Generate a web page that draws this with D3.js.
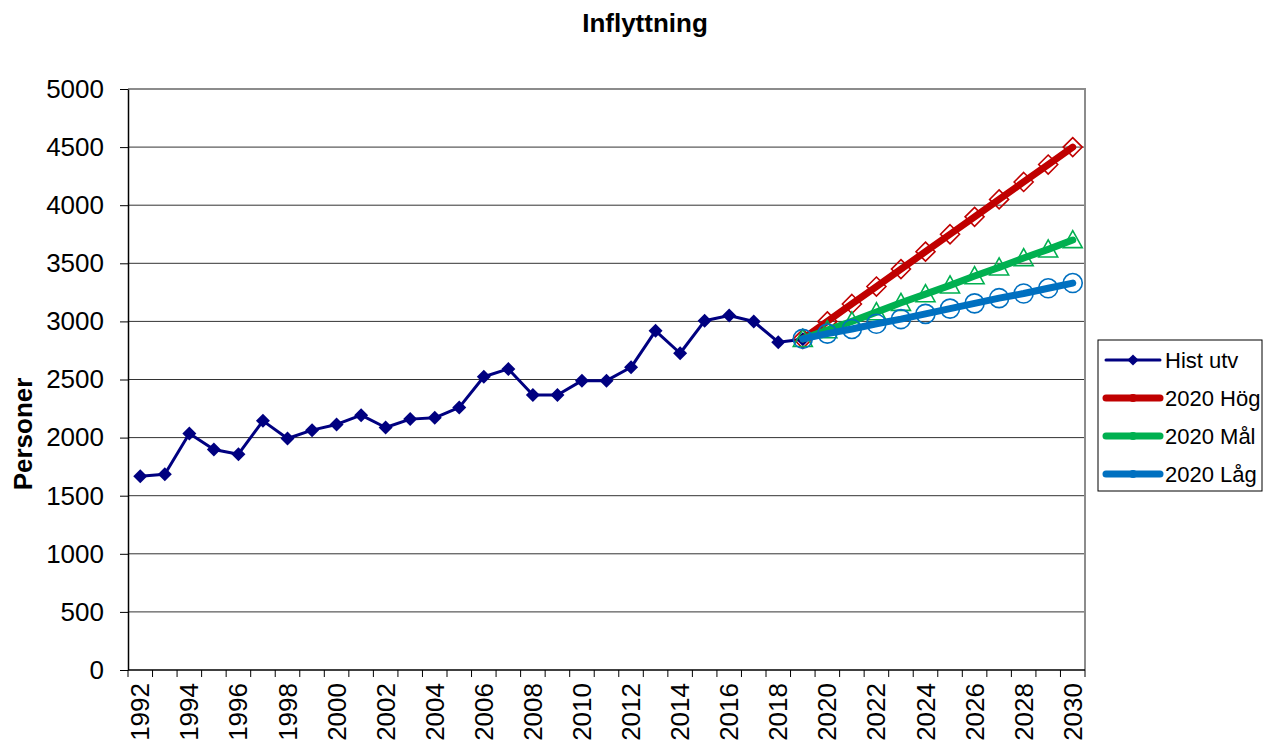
<!DOCTYPE html>
<html lang="sv">
<head>
<meta charset="UTF-8">
<title>Inflyttning</title>
<script src="https://d3js.org/d3.v7.min.js"></script>
<style>
  body, html { margin: 0; background: #fff; }
  svg { display: block; font-family: Arial, "Liberation Sans", sans-serif; }
  .grid line { stroke: #333; stroke-width: 1; }
  .axis path, .axis line { stroke: #000; }
  .axis text { font-size: 26px; fill: #000; }
  .legend text { font-size: 22px; fill: #000; }
</style>
</head>
<body>
<script>
// kategorier (år)
const years = [1992, 1993, 1994, 1995, 1996, 1997, 1998, 1999, 2000, 2001, 2002, 2003, 2004,
  2005, 2006, 2007, 2008, 2009, 2010, 2011, 2012, 2013, 2014, 2015, 2016, 2017, 2018, 2019,
  2020, 2021, 2022, 2023, 2024, 2025, 2026, 2027, 2028, 2029, 2030];

// historisk utveckling 1992-2019
const histYears = years.slice(0, 28);
const histValues = [1667, 1684, 2035, 1897, 1857, 2144, 1992, 2064, 2113, 2193, 2087, 2159, 2170, 2260,
  2524, 2591, 2366, 2366, 2490, 2490, 2605, 2919, 2726, 3005, 3051, 2999, 2821, 2847];

// prognoser 2019-2030
const progYears = years.slice(27);
const hogValues = [2850, 3000, 3150, 3300, 3450, 3600, 3750, 3900, 4050, 4200, 4350, 4500];
const malValues = [2850, 2925, 3000, 3080, 3160, 3235, 3310, 3390, 3465, 3545, 3620, 3700];
const lagValues = [2850, 2895, 2935, 2980, 3020, 3065, 3110, 3155, 3200, 3240, 3285, 3330];

const yTicks = [0, 500, 1000, 1500, 2000, 2500, 3000, 3500, 4000, 4500, 5000];

const width = 1264, height = 745;
const plot = { left: 128, right: 1085, top: 89, bottom: 670 };

const svg = d3.select("body").append("svg")
  .attr("width", width)
  .attr("height", height);

const x = d3.scaleBand().domain(years).range([plot.left, plot.right]).padding(0);
const y = d3.scaleLinear().domain([0, 5000]).range([plot.bottom, plot.top]);
const cx = d => x(d) + x.bandwidth() / 2;

// stödlinjer
svg.append("g").attr("class", "grid")
  .selectAll("line")
  .data(yTicks.filter(d => d > 0 && d < 5000))
  .join("line")
  .attr("x1", plot.left).attr("x2", plot.right)
  .attr("y1", d => y(d)).attr("y2", d => y(d));

// ram: topp och höger i grått
svg.append("path")
  .attr("d", `M${plot.left},${plot.top}H${plot.right}V${plot.bottom}`)
  .attr("fill", "none")
  .attr("stroke", "#8c8c8c")
  .attr("stroke-width", 2);

// y-axel
svg.append("g").attr("class", "axis")
  .attr("transform", `translate(${plot.left},0)`)
  .call(d3.axisLeft(y).tickValues(yTicks).tickFormat(d3.format("d"))
    .tickSize(8).tickPadding(16).tickSizeOuter(0))
  .call(g => g.select(".domain").attr("stroke-width", 1.5));

// x-axel: streck vid kategorigränser, etiketter varannat år
const xAxis = svg.append("g").attr("class", "axis")
  .attr("transform", `translate(0,${plot.bottom})`);
xAxis.append("line")
  .attr("x1", plot.left).attr("x2", plot.right)
  .attr("stroke", "#000").attr("stroke-width", 1.5);
xAxis.selectAll(".xtick")
  .data(years.concat([null]))
  .join("line")
  .attr("class", "xtick")
  .attr("x1", (d, i) => i < years.length ? x(d) : plot.right)
  .attr("x2", (d, i) => i < years.length ? x(d) : plot.right)
  .attr("y1", 0).attr("y2", 7)
  .attr("stroke", "#000");
xAxis.selectAll(".xlabel")
  .data(years.filter(d => d % 2 === 0))
  .join("text")
  .attr("class", "xlabel")
  .attr("transform", d => `translate(${cx(d) + 9},13) rotate(-90)`)
  .attr("text-anchor", "end")
  .text(d => d);

// serier
const line = d3.line().x(d => cx(d[0])).y(d => y(d[1]));
const zip = (ks, vs) => ks.map((k, i) => [k, vs[i]]);

const series = [
  { name: "Hist utv", data: zip(histYears, histValues), color: "#000080", width: 3, marker: "diamondFill" },
  { name: "2020 Hög", data: zip(progYears, hogValues), color: "#C00000", width: 7, marker: "diamond" },
  { name: "2020 Mål", data: zip(progYears, malValues), color: "#00B050", width: 7, marker: "triangle" },
  { name: "2020 Låg", data: zip(progYears, lagValues), color: "#0070C0", width: 7, marker: "circle" }
];

function drawMarker(g, type, color, px, py, scale) {
  const s = scale || 1;
  if (type === "diamondFill") {
    const r = 7 * s;
    g.append("path")
      .attr("d", `M${px},${py - r}L${px + r},${py}L${px},${py + r}L${px - r},${py}Z`)
      .attr("fill", color);
  } else if (type === "diamond") {
    const r = 9.5 * s;
    g.append("path")
      .attr("d", `M${px},${py - r}L${px + r},${py}L${px},${py + r}L${px - r},${py}Z`)
      .attr("fill", "none").attr("stroke", color).attr("stroke-width", 1.6);
  } else if (type === "triangle") {
    const r = 9.5 * s;
    g.append("path")
      .attr("d", `M${px},${py - r}L${px + r},${py + r * 0.8}L${px - r},${py + r * 0.8}Z`)
      .attr("fill", "none").attr("stroke", color).attr("stroke-width", 1.6);
  } else if (type === "circle") {
    g.append("circle")
      .attr("cx", px).attr("cy", py).attr("r", 9.5 * s)
      .attr("fill", "none").attr("stroke", color).attr("stroke-width", 1.6);
  }
}

series.forEach(s => {
  const g = svg.append("g");
  g.append("path")
    .datum(s.data)
    .attr("d", line)
    .attr("fill", "none")
    .attr("stroke", s.color)
    .attr("stroke-width", s.width)
    .attr("stroke-linejoin", "round")
    .attr("stroke-linecap", "round");
  s.data.forEach(d => drawMarker(g, s.marker, s.color, cx(d[0]), y(d[1])));
});

// titel
svg.append("text")
  .attr("x", 645).attr("y", 32)
  .attr("text-anchor", "middle")
  .style("font-size", "26px").style("font-weight", "bold")
  .text("Inflyttning");

// y-axelns rubrik
svg.append("text")
  .attr("transform", "translate(32,434) rotate(-90)")
  .attr("text-anchor", "middle")
  .style("font-size", "26px").style("font-weight", "bold")
  .text("Personer");

// förklaring
const legend = svg.append("g").attr("class", "legend");
legend.append("rect")
  .attr("x", 1098).attr("y", 340)
  .attr("width", 164).attr("height", 151)
  .attr("fill", "#fff").attr("stroke", "#000").attr("stroke-width", 1);

series.forEach((s, i) => {
  const ly = 360 + i * 38;
  const row = legend.append("g");
  row.append("line")
    .attr("x1", 1106).attr("x2", 1160)
    .attr("y1", ly).attr("y2", ly)
    .attr("stroke", s.color)
    .attr("stroke-width", s.width)
    .attr("stroke-linecap", "round");
  if (i === 0) {
    drawMarker(row, "diamondFill", s.color, 1133, ly, 0.8);
  } else {
    row.append("circle").attr("cx", 1133).attr("cy", ly).attr("r", 4).attr("fill", s.color);
  }
  row.append("text")
    .attr("x", 1165).attr("y", ly)
    .attr("dy", "0.35em")
    .text(s.name);
});
</script>
</body>
</html>
